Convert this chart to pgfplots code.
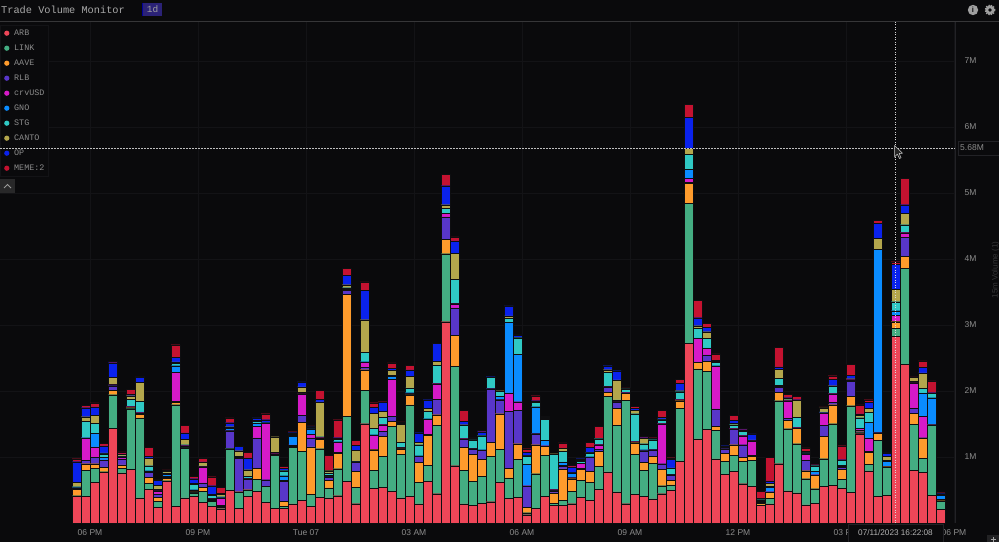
\documentclass[border=0pt]{standalone}
\usepackage{fontspec}
\setmainfont{Liberation Sans}
\newfontfamily\monof{Liberation Mono}
\usepackage{pgfplots}
\usepackage{pgfplotstable}
\pgfplotsset{compat=1.18}

\definecolor{bgc}{HTML}{0A0A0C}
\definecolor{gridc}{HTML}{131316}
\definecolor{linec}{HTML}{222226}
\definecolor{seam}{HTML}{0E0E10}
\definecolor{tickc}{HTML}{8C8C8C}
\definecolor{badge}{HTML}{2B2277}
\definecolor{cARB}{HTML}{EE4658}
\definecolor{cLINK}{HTML}{44AD82}
\definecolor{cAAVE}{HTML}{FE9B2C}
\definecolor{cRLB}{HTML}{5836C9}
\definecolor{cCRV}{HTML}{D61AC8}
\definecolor{cGNO}{HTML}{0A8CFF}
\definecolor{cSTG}{HTML}{2FC9C4}
\definecolor{cCANTO}{HTML}{B3A64C}
\definecolor{cOP}{HTML}{0A22EC}
\definecolor{cMEME}{HTML}{C41230}

% volume per 15 min bar, in thousands
\pgfplotstableread{
idx ARB LINK AAVE RLB crvUSD GNO STG CANTO OP MEME
0 404 10 101 10 5 5 15 71 308 45
1 404 394 101 51 338 5 247 71 136 40
2 616 217 66 101 152 202 157 116 131 61
3 768 10 61 106 10 40 51 15 106 45
4 1434 510 66 71 10 10 5 101 222 20
5 758 71 51 91 20 10 15 20 10 30
6 818 914 15 10 5 5 106 56 20 76
7 379 1212 56 20 5 10 162 288 71 15
8 515 86 91 76 15 10 76 116 25 136
9 237 91 61 51 45 10 20 51 81 15
10 631 10 40 15 10 35 20 25 10 10
11 253 1540 35 15 444 96 40 20 71 187
12 379 758 5 25 5 5 10 76 101 116
13 404 51 15 10 15 10 81 15 71 35
14 313 167 61 66 242 5 10 56 5 51
15 253 76 10 15 10 10 45 15 131 136
16 217 20 15 15 106 10 15 35 20 86
17 495 631 5 268 10 30 15 5 61 71
18 227 242 5 510 10 5 15 81 66 5
19 404 96 5 152 10 15 25 101 177 81
20 480 177 167 465 177 51 25 10 40 5
21 313 242 5 96 859 5 5 5 35 91
22 227 798 5 15 5 5 15 237 5 5
23 227 25 76 303 15 71 76 10 30 25
24 288 859 15 15 5 136 15 10 25 15
25 343 742 439 106 328 5 15 86 76 5
26 253 182 717 136 51 86 10 10 10 15
27 389 737 146 10 10 5 10 530 35 141
28 379 152 116 51 10 10 40 35 5 227
29 414 409 237 10 152 10 40 10 10 273
30 631 985 1853 61 15 10 10 45 141 106
31 293 247 242 136 5 5 10 167 71 76
32 1505 505 313 40 76 5 146 490 444 131
33 530 268 313 5 212 10 96 227 96 66
34 540 470 303 76 101 5 106 91 141 5
35 480 985 71 81 556 51 15 71 35 81
36 379 657 86 10 5 5 81 273 10 25
37 404 1384 152 15 5 15 71 177 96 71
38 288 328 303 91 5 5 167 35 146 5
39 631 247 455 10 232 5 111 51 126 5
40 444 1035 162 237 232 5 278 56 273 5
41 3050 1030 222 338 51 5 71 56 288 172
42 869 1505 470 414 61 5 369 394 187 61
43 288 510 348 126 5 5 202 5 51 167
44 268 364 404 76 10 5 131 10 15 20
45 303 404 253 141 5 5 212 10 51 25
46 323 687 212 813 5 5 162 5 5 5
47 616 505 535 212 5 51 76 5 5 5
48 369 313 146 864 278 1066 66 35 152 5
49 389 571 242 505 131 717 253 10 25 20
50 126 30 86 318 5 328 126 5 51 51
51 227 520 439 167 5 404 71 10 10 76
52 404 621 136 5 5 81 323 10 15 15
53 268 35 152 30 20 5 535 5 5 5
54 268 76 475 40 15 51 162 40 5 81
55 293 187 192 15 10 61 5 5 81 25
56 389 258 162 15 76 5 30 10 30 5
57 343 278 162 212 5 5 56 5 76 76
58 515 343 227 35 66 5 86 5 5 177
59 773 1146 61 76 5 5 217 40 61 5
60 470 1010 253 96 5 5 25 303 141 5
61 293 1566 101 10 5 5 51 5 5 5
62 439 601 177 10 5 5 419 56 30 30
63 404 399 116 177 10 5 91 81 10 25
64 364 545 101 101 5 5 141 5 20 5
65 444 121 253 81 606 5 51 15 25 106
66 495 81 71 81 5 5 91 5 131 25
67 934 803 116 10 5 5 116 15 111 61
68 2727 2121 303 10 66 136 227 86 470 202
69 1273 1061 101 5 359 5 146 40 121 263
70 1424 874 152 96 101 5 146 101 66 61
71 970 434 61 263 646 10 51 15 10 101
72 742 192 121 71 5 5 10 20 5 5
73 783 242 162 237 5 10 51 25 40 76
74 596 338 61 192 136 10 56 15 10 20
75 556 394 61 15 217 5 5 5 91 5
76 263 10 25 20 10 15 10 10 15 101
77 288 86 91 5 5 61 15 51 35 354
78 899 954 126 81 15 10 106 136 40 293
79 485 944 126 35 263 5 10 25 5 56
80 455 747 232 5 5 5 152 258 10 51
81 273 399 121 162 81 10 15 10 15 51
82 303 217 202 5 5 51 86 5 5 5
83 556 419 338 167 187 5 10 61 5 10
84 566 939 288 35 131 5 106 10 101 51
85 530 136 152 30 10 15 76 5 5 212
86 465 1313 141 227 25 5 5 5 51 167
87 1353 15 15 25 25 10 152 35 25 136
88 788 106 177 15 202 237 152 56 91 45
89 404 848 111 5 5 2772 5 162 227 51
90 424 424 5 5 5 76 10 66 40 15
91 2833 116 101 5 96 66 136 192 379 35
92 2409 1449 187 283 71 5 116 177 126 404
93 798 697 162 81 384 5 15 61 5 5
94 768 212 308 5 323 354 66 237 81 101
95 419 1061 5 5 5 404 61 5 10 177
96 212 116 10 5 15 66 10 5 5 15
}\voldata

\begin{document}
\begin{tikzpicture}[x=1pt,y=1pt]
\path[use as bounding box,fill=bgc] (0,0) rectangle (999,542);
\begin{axis}[
  at={(0pt,19pt)}, anchor=south west,
  scale only axis, width=955pt, height=501pt,
  ybar stacked, bar width=0.98,
  xmin=-8.5, xmax=97.611, ymin=0, ymax=7591,
  axis line style={draw=none},
  tick style={draw=none},
  major tick length=0pt,
  ytick={1000,2000,3000,4000,5000,6000,7000},
  yticklabels={1M,2M,3M,4M,5M,6M,7M},
  xtick={1.5,13.5,25.5,37.5,49.5,61.5,73.5,85.5,97.5},
  xticklabels={06 PM,09 PM,Tue 07,03 AM,06 AM,09 AM,12 PM,03 PM,06 PM},
  ytick pos=right, yticklabel pos=right,
  yticklabel style={font=\fontsize{8.5}{10}\selectfont, text=tickc, xshift=6pt},
  xticklabel style={font=\fontsize{8.5}{10}\selectfont, text=tickc, yshift=-3pt},
  grid=major, grid style={gridc, line width=0.6pt},
  legend cell align=left,
  legend image code/.code={\fill[#1,draw=none] (0pt,0pt) circle (2.6pt);},
  legend style={at={(0pt,498pt)}, anchor=north west, draw=gridc, fill=bgc,
    font=\monof\fontsize{8.4}{9}\selectfont, text=tickc,
    inner xsep=4pt, inner ysep=4pt,
    nodes={inner sep=0pt, text height=6.5pt, text depth=1.5pt},
    row sep=7pt, column sep=4.8pt},
]
\addplot[fill=cARB,draw=seam,line width=.3pt] table[x=idx,y=ARB]{\voldata};
\addplot[fill=cLINK,draw=seam,line width=.3pt] table[x=idx,y=LINK]{\voldata};
\addplot[fill=cAAVE,draw=seam,line width=.3pt] table[x=idx,y=AAVE]{\voldata};
\addplot[fill=cRLB,draw=seam,line width=.3pt] table[x=idx,y=RLB]{\voldata};
\addplot[fill=cCRV,draw=seam,line width=.3pt] table[x=idx,y=crvUSD]{\voldata};
\addplot[fill=cGNO,draw=seam,line width=.3pt] table[x=idx,y=GNO]{\voldata};
\addplot[fill=cSTG,draw=seam,line width=.3pt] table[x=idx,y=STG]{\voldata};
\addplot[fill=cCANTO,draw=seam,line width=.3pt] table[x=idx,y=CANTO]{\voldata};
\addplot[fill=cOP,draw=seam,line width=.3pt] table[x=idx,y=OP]{\voldata};
\addplot[fill=cMEME,draw=seam,line width=.3pt] table[x=idx,y=MEME]{\voldata};
\legend{ARB,LINK,AAVE,RLB,crvUSD,GNO,STG,CANTO,OP,MEME:2}
\end{axis}
% header bar
\draw[white!18!bgc,line width=.7pt] (0,521) -- (999,521);
\node[anchor=west,inner sep=0pt,text=white!66!black,font=\monof\fontsize{10.3}{12}\selectfont] at (1,532.5) {Trade Volume Monitor};
\fill[badge] (142,526) rectangle (162,539);
\fill[blue!60!black] (142,526) rectangle (143,539);
\node[inner sep=0pt,text=white!62!black,font=\monof\fontsize{9.5}{11}\selectfont] at (152.5,532.5) {1d};
% info and gear icons
\fill[gray!75] (973,532) circle (5.2pt);
\node[inner sep=0pt,text=bgc,font=\bfseries\fontsize{7.5}{8}\selectfont] at (973,532) {i};
\fill[gray!75] (990,532) circle (4.6pt);
\draw[gray!75,line width=1.2pt,dash pattern=on 1.3pt off 1.3pt] (990,532) circle (4.9pt);
\fill[bgc] (990,532) circle (1.8pt);
% price scale edge
\draw[linec,line width=.6pt] (955,19) -- (955,520);
% collapse button
\fill[white!12!bgc] (0,349) rectangle (15,363);
\draw[gray!80,line width=.8pt] (4,354) -- (7.5,357.5) -- (11,354);
% crosshair
\draw[gray!50,line width=.5pt,dash pattern=on 1.5pt off 1.5pt] (0,394) -- (955,394);
\draw[gray!30,line width=.6pt,dash pattern=on 1pt off 1.5pt] (895.5,19) -- (895.5,520);
\fill[bgc] (958,387) rectangle (999,401);
\draw[linec,line width=.5pt] (958,387) rectangle (999,401);
\node[anchor=west,inner sep=0pt,text=tickc,font=\fontsize{8.5}{10}\selectfont] at (960,394) {5.68M};
% mouse pointer
\fill[black!85,draw=white!80!black,line width=.5pt] (894.5,396.5) -- (894.5,385) -- (897.3,387.8) -- (899.5,383.5) -- (901,384.2) -- (899.2,388.5) -- (902.5,388.8) -- cycle;
% crosshair time label
\fill[bgc] (848,0) rectangle (943,18);
\draw[linec,line width=.5pt] (848,0) -- (848,18) -- (943,18) -- (943,0);
\node[inner sep=0pt,text=white!70!black,font=\fontsize{8.2}{10}\selectfont] at (895.5,9) {07/11/2023 16:22:08};
% cut off axis title
\node[rotate=90,inner sep=0pt,text=white!18!bgc,font=\fontsize{8}{10}\selectfont] at (995.5,272) {15m Volume (1)};
% zoom button in the corner
\fill[white!10!bgc] (987,0) rectangle (999,7);
\draw[gray!70,line width=.5pt] (993,0) -- (993,5) (990.5,2.5) -- (995.5,2.5);
\end{tikzpicture}
\end{document}
